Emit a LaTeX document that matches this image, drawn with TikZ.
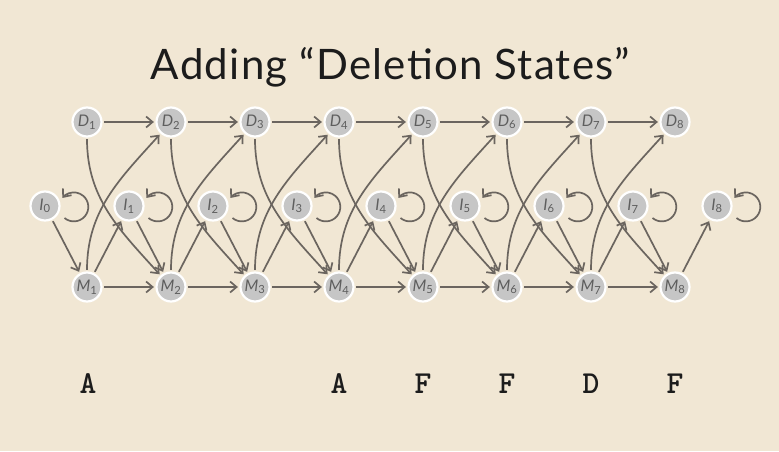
\documentclass[tikz,border=0pt]{standalone}
\usepackage{fontspec}
\setmainfont{Lato}
\usetikzlibrary{arrows.meta}
\definecolor{paper}{HTML}{F1E7D4}
\definecolor{statefill}{HTML}{C6C6C6}
\definecolor{statetext}{HTML}{5E5E5E}
\definecolor{edgecol}{HTML}{6B655F}
\definecolor{titlecol}{HTML}{1C1C1C}
\tikzset{
  state/.style={circle, fill=statefill, draw=white, line width=2.2pt,
    minimum size=29pt, inner sep=0pt, text=statetext,
    font=\fontsize{16}{16}\selectfont\itshape},
  tip/.style={-{Straight Barb[length=6.5pt,width=11pt,line width=1.7pt]}},
  arr/.style={draw=edgecol, line width=1.7pt, tip,
    shorten <=1.5pt, shorten >=1.5pt},
  loopedge/.style={draw=edgecol, line width=1.7pt, tip},
  residue/.style={font=\fontsize{32}{32}\selectfont\ttfamily\bfseries,
    text=titlecol, anchor=base},
}
\begin{document}
\begin{tikzpicture}[x=1pt,y=1pt]
  % page and background
  \fill[paper] (0,0) rectangle (779,451);
  \useasboundingbox (0,0) rectangle (779,451);

  % title
  \node[anchor=base, text=titlecol, inner sep=0pt,
    font=\fontsize{42}{48}\selectfont\addfontfeatures{LetterSpace=3}]
    (title) at (390.5,371) {Adding “Deletion States”};

  % states: deletion (top), insertion (middle), match (bottom)
  \foreach \i in {1,...,8} {
    \node[state] (D\i) at ({3+84*\i},329) {D\textsubscript{\upshape\i}};
    \node[state] (M\i) at ({3+84*\i},164) {M\textsubscript{\upshape\i}};
  }
  \foreach \i in {0,...,8} {
    \node[state] (I\i) at ({45+84*\i},245) {I\textsubscript{\upshape\i}};
  }

  % transitions between consecutive columns
  \foreach \i in {1,...,7} {
    \pgfmathtruncatemacro\j{\i+1}
    \draw[arr] (D\i) -- (D\j);
    \draw[arr] (M\i) -- (M\j);
    \draw[arr] (D\i) to[out=-90,in=132] (M\j);
    \draw[arr] (M\i) to[out=90,in=228] (D\j);
  }
  \foreach \i in {0,...,7} {
    \pgfmathtruncatemacro\j{\i+1}
    \draw[arr] (I\i) -- (M\j);
  }
  \foreach \i in {1,...,8} {
    \draw[arr] (M\i) -- (I\i);
  }
  % self-loops on the insertion states
  \foreach \i in {0,...,8} {
    \draw[loopedge] (I\i) ++(19.5,-12) arc[start angle=-130, end angle=142, radius=14.5];
  }

  % residues under the columns
  \node[residue] (r1) at (88,58) {A};
  \node[residue] (r4) at (339,58) {A};
  \node[residue] (r5) at (423,58) {F};
  \node[residue] (r6) at (507,58) {F};
  \node[residue] (r7) at (591,58) {D};
  \node[residue] (r8) at (675,58) {F};
\end{tikzpicture}
\end{document}
